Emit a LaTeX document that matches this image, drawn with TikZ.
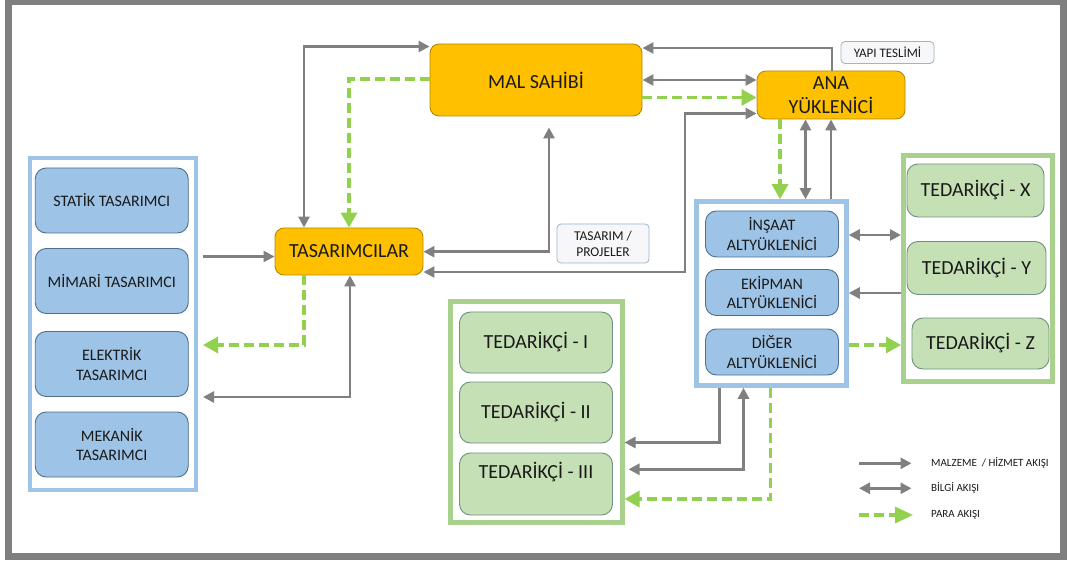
\documentclass[tikz,border=0pt]{standalone}
\usepackage{fontspec}
\setmainfont{Carlito}
\usetikzlibrary{arrows.meta}

\definecolor{framegray}{HTML}{7F7F7F}
\definecolor{arrgray}{HTML}{808080}
\definecolor{paygreen}{HTML}{92D050}
\definecolor{orgfill}{HTML}{FFC000}
\definecolor{orgline}{HTML}{B88A00}
\definecolor{blufill}{HTML}{9DC3E6}
\definecolor{bluline}{HTML}{4F6F90}
\definecolor{grnfill}{HTML}{C5E0B4}
\definecolor{grnline}{HTML}{6E8F82}
\definecolor{blugrpc}{HTML}{9DC3E6}
\definecolor{grngrpc}{HTML}{A9D18E}
\definecolor{tagfill}{HTML}{F7F7FA}
\definecolor{tagline}{HTML}{9FB3CC}
\definecolor{txt}{HTML}{1A1A1A}

\tikzset{
  orgbox/.style={draw=orgline, fill=orgfill, rounded corners=9pt, line width=0.9pt,
    text=txt, align=center, inner sep=0pt, font=\fontsize{20}{24}\selectfont},
  blubox/.style={draw=bluline, fill=blufill, rounded corners=11pt, line width=0.9pt,
    text=txt, align=center, inner sep=0pt, font=\fontsize{16}{19.5}\selectfont},
  grnbox/.style={draw=grnline, fill=grnfill, rounded corners=11pt, line width=0.9pt,
    text=txt, align=center, inner sep=0pt, font=\fontsize{20}{24}\selectfont},
  blugrp/.style={draw=blugrpc, fill=white, line width=4.5pt, inner sep=0pt},
  grngrp/.style={draw=grngrpc, fill=white, line width=5pt, inner sep=0pt},
  tagbox/.style={draw=tagline, fill=tagfill, rounded corners=4pt, line width=0.8pt,
    text=txt, align=center, inner sep=0pt},
  legtext/.style={anchor=west, inner sep=0pt, text=txt, font=\fontsize{11}{13}\selectfont},
  flowline/.style={draw=arrgray, line width=2.6pt},
  flowone/.style={flowline, -{Triangle[length=11pt,width=11pt]}},
  flowbi/.style={flowline, {Triangle[length=11pt,width=11pt]}-{Triangle[length=11pt,width=11pt]}},
  flowpay/.style={draw=paygreen, line width=3.2pt, dash pattern=on 10pt off 5pt,
    -{Triangle[length=15pt,width=16pt]}},
}

\begin{document}
\begin{tikzpicture}[x=1pt,y=-1pt]
  \useasboundingbox[fill=white] (0,0) rectangle (1068,561);
  % outer frame
  \draw[framegray, line width=6.5pt] (8.5,1.5) rectangle (1063.5,556.5);

  % main parties
  \node[orgbox, minimum width=212pt, minimum height=72pt] (mal) at (536,80) {MAL SAHİBİ};
  \node[orgbox, minimum width=148pt, minimum height=48pt] (ana) at (831,95) {ANA\\YÜKLENİCİ};
  \node[orgbox, minimum width=148pt, minimum height=47pt] (tas) at (349,251.5) {TASARIMCILAR};

  % small tags
  \node[tagbox, minimum width=93pt, minimum height=22pt, font=\fontsize{13}{15}\selectfont]
    (teslim) at (887.5,52.5) {YAPI TESLİMİ};
  \node[tagbox, minimum width=92pt, minimum height=39pt, font=\fontsize{13.5}{16}\selectfont]
    (proje) at (603,243.5) {TASARIM /\\PROJELER};

  % group frames
  \node[blugrp, minimum width=166pt, minimum height=332pt] (lgrp) at (113,324) {};
  \node[blugrp, minimum width=150pt, minimum height=184pt] (mgrp) at (771.5,293.5) {};
  \node[grngrp, minimum width=149pt, minimum height=226pt] (rgrp) at (978,268.5) {};
  \node[grngrp, minimum width=172pt, minimum height=221pt] (bgrp) at (536,412) {};

  % designers
  \node[blubox, minimum width=153pt, minimum height=65pt] (statik) at (111.75,200.5) {STATİK TASARIMCI};
  \node[blubox, minimum width=153pt, minimum height=65pt] (mimari) at (111.75,281) {MİMARİ TASARIMCI};
  \node[blubox, minimum width=153pt, minimum height=65pt] (elektrik) at (111.75,364) {ELEKTRİK\\TASARIMCI};
  \node[blubox, minimum width=153pt, minimum height=65pt] (mekanik) at (111.75,444.5) {MEKANİK\\TASARIMCI};

  % subcontractors
  \node[blubox, minimum width=133pt, minimum height=46pt] (insaat) at (772,234) {İNŞAAT\\ALTYÜKLENİCİ};
  \node[blubox, minimum width=133pt, minimum height=46pt] (ekipman) at (772,292.5) {EKİPMAN\\ALTYÜKLENİCİ};
  \node[blubox, minimum width=133pt, minimum height=46pt] (diger) at (772,352) {DİĞER\\ALTYÜKLENİCİ};

  % suppliers (right)
  \node[grnbox, minimum width=137pt, minimum height=53pt] (tx) at (975.5,190.5) {TEDARİKÇİ - X};
  \node[grnbox, minimum width=139pt, minimum height=53pt] (ty) at (976.5,268) {TEDARİKÇİ - Y};
  \node[grnbox, minimum width=137pt, minimum height=51pt] (tz) at (980.5,343.5) {TEDARİKÇİ - Z};

  % suppliers (bottom)
  \node[grnbox, minimum width=153pt, minimum height=61pt] (t1) at (536,342.5) {TEDARİKÇİ - I};
  \node[grnbox, minimum width=153pt, minimum height=61pt] (t2) at (536,412.5) {TEDARİKÇİ - II};
  \node[grnbox, minimum width=153pt, minimum height=62pt] (t3) at (536,484) {};
  \node[inner sep=0pt, text=txt, font=\fontsize{20}{24}\selectfont] (t3txt) at (536,472) {TEDARİKÇİ - III};

  % bend points and free ends
  \coordinate (k1) at (304,46.5);
  \coordinate (k2) at (349,79);
  \coordinate (k3) at (832,48);
  \coordinate (k4) at (700,80);
  \coordinate (k5) at (700,97.5);
  \coordinate (k6) at (685,272);
  \coordinate (k6b) at (685,113.5);
  \coordinate (k7) at (549,251.7);
  \coordinate (k8) at (203,256.5);
  \coordinate (k9a) at (304,345);
  \coordinate (k9) at (203,345);
  \coordinate (k10a) at (350,397);
  \coordinate (k10) at (203,397);
  \coordinate (k11) at (780,150);
  \coordinate (k12) at (805.5,150);
  \coordinate (k13) at (831,150);
  \coordinate (k14) at (875,235);
  \coordinate (k15) at (875,293);
  \coordinate (k16) at (875,345);
  \coordinate (k17) at (719.4,442.5);
  \coordinate (k18) at (743.5,469.3);
  \coordinate (k19) at (770.7,499);

  % owner / designers / main contractor
  \draw[flowbi] (tas.north -| k1) |- (mal.west |- k1);
  \draw[flowpay] (mal.west |- k2) -| (tas.north -| k2);
  \draw[flowone] (ana.north -| k3) |- (mal.east |- k3);
  \draw[flowbi] (mal.east |- k4) -- (ana.west |- k4);
  \draw[flowpay] (mal.east |- k5) -- (ana.west |- k5);
  \draw[flowbi] (tas.east |- k6) -- (k6) -- (k6b) -- (ana.west |- k6b);
  \draw[flowbi, shorten >=11pt] (tas.east |- k7) -| (mal.south -| k7);

  % designers group
  \draw[flowone] (k8) -- (tas.west |- k8);
  \draw[flowpay] (tas.south -| k9a) -- (k9a) -- (k9);
  \draw[flowbi] (tas.south -| k10a) -- (k10a) -- (k10);

  % main contractor / subcontractors
  \draw[flowpay] (ana.south -| k11) -- (mgrp.north -| k11);
  \draw[flowbi] (ana.south -| k12) -- (mgrp.north -| k12);
  \draw[flowone] (mgrp.north -| k13) -- (ana.south -| k13);

  % subcontractors / right suppliers
  \draw[flowbi] (mgrp.east |- k14) -- (rgrp.west |- k14);
  \draw[flowone] (rgrp.west |- k15) -- (mgrp.east |- k15);
  \draw[flowpay] (mgrp.east |- k16) -- (rgrp.west |- k16);

  % subcontractors / bottom suppliers
  \draw[flowone] (mgrp.south -| k17) |- (bgrp.east |- k17);
  \draw[flowbi, shorten <=4pt] (bgrp.east |- k18) -| (mgrp.south -| k18);
  \draw[flowpay] (mgrp.south -| k19) |- (bgrp.east |- k19);

  % legend
  \coordinate (la1) at (859,463.3);
  \coordinate (lb1) at (911.5,463.3);
  \coordinate (la2) at (859,488.3);
  \coordinate (lb2) at (911.5,488.3);
  \coordinate (la3) at (859,515);
  \coordinate (lb3) at (913,515);
  \draw[flowone] (la1) -- (lb1);
  \draw[flowbi] (la2) -- (lb2);
  \draw[flowpay, -{Triangle[length=18pt,width=16pt]}] (la3) -- (lb3);
  \node[legtext] (lt1) at (931,463.3) {MALZEME~ / HİZMET AKIŞI};
  \node[legtext] (lt2) at (931,488.3) {BİLGİ AKIŞI};
  \node[legtext] (lt3) at (931,515) {PARA AKIŞI};
\end{tikzpicture}
\end{document}
